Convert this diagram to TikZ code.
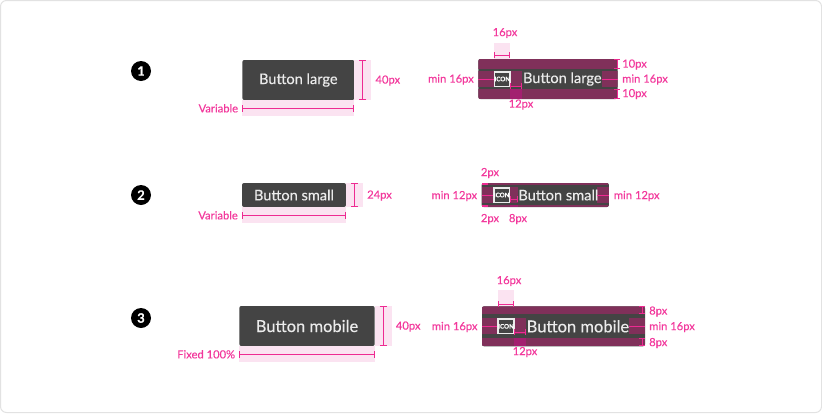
\documentclass[tikz,border=0pt]{standalone}
\usepackage{fontspec}
\setmainfont{Lato}[FakeBold = 0.25]
\usetikzlibrary{calc,arrows.meta}

\definecolor{markPink}{HTML}{EE2A92}
\definecolor{textPink}{HTML}{F2399C}
\definecolor{bandPink}{HTML}{FBE3F1}
\definecolor{overMaroon}{HTML}{80305A}
\definecolor{overStrong}{HTML}{A32070}
\definecolor{btnGray}{HTML}{444444}
\definecolor{pageEdge}{HTML}{E2E2E2}

\tikzset{
    btnbox/.style = {fill = btnGray, rounded corners = 2pt, inner sep = 0pt, outer sep = 0pt, text = white!92!black},
    lbl/.style = {text = textPink, inner sep = 0pt, font = \fontsize{11.2}{11.2}\selectfont},
    measure/.style = {draw = markPink, line width = 1pt, {Bar[width = 7pt, line width = 1pt]}-{Bar[width = 7pt, line width = 1pt]}},
    smallmeasure/.style = {draw = markPink, line width = 1pt, {Bar[width = 6pt, line width = 1pt]}-{Bar[width = 6pt, line width = 1pt]}},
    bullet/.style = {circle, fill = black, text = white, inner sep = 0pt, minimum size = 20pt, font = \fontsize{13}{13}\selectfont\bfseries},
    iconbox/.style = {draw = white!92!black, line width = 1.5pt, inner sep = 0pt, minimum size = 14.5pt, font = \fontsize{6.2}{6.2}\selectfont\bfseries, text = white}
}

\begin{document}
\begin{tikzpicture}[x = 1pt, y = -1pt]

        \useasboundingbox (0, 0) rectangle (822, 413);
        \draw[pageEdge, line width = 1pt, rounded corners = 6pt] (0.5, 0.5) rectangle (821.5, 412.5);

        % numbered bullets
        \foreach \n/\y in {1/71, 2/195, 3/318} {
            \node[bullet] (num\n) at (141, \y) {\n};
        }

        % buttons on the left, with height and width
        \foreach \n/\x/\y/\w/\h/\size/\title/\hText/\wText/\wGap in {
            1/298.3/80/112/40/14.6/Button large/40px/Variable/4,
            2/294/195/104/24/14.6/Button small/24px/Variable/4,
            3/307/326/135.4/40/16.5/Button mobile/40px/Fixed 100\%/4} {

            \node[btnbox, minimum width = \w pt, minimum height = \h pt, font = \fontsize{\size}{\size}\selectfont] (btn\n) at (\x, \y) {\title};

            % draw bands
            \fill[bandPink] (btn\n.north east) rectangle ($(btn\n.south east) + (17, 0)$);
            \fill[bandPink] (btn\n.south west) rectangle ($(btn\n.south east) + (0, 16)$);

            % draw measures
            \coordinate (hTop\n) at ($(btn\n.north east) + (8.5, 0)$);
            \coordinate (hBot\n) at ($(btn\n.south east) + (8.5, 0)$);
            \coordinate (wLeft\n) at ($(btn\n.south west) + (0, 8.3)$);
            \coordinate (wRight\n) at ($(btn\n.south east) + (0, 8.3)$);
            \draw[measure] (hTop\n) -- (hBot\n);
            \draw[measure] (wLeft\n) -- (wRight\n);

            \node[lbl, anchor = west] (hLbl\n) at ($(btn\n.east) + (21, 0.5)$) {\hText};
            \node[lbl, anchor = east] (wLbl\n) at ($(wLeft\n) + (-\wGap, 0)$) {\wText};
        }

        % buttons on the right, with paddings on top
        \foreach \n/\x/\y/\w/\h/\pad/\gapW/\gapY/\band/\size/\title in {
            1/548/79/139.4/40/16/12/7/10/14.6/Button large,
            2/545.3/195/127.3/24/12/8/4/2/14.6/Button small,
            3/563.5/326.3/163/40/16/12/6/8/16.5/Button mobile} {

            \node[btnbox, minimum width = \w pt, minimum height = \h pt] (box\n) at (\x, \y) {};

            \begin{scope}
                \clip[rounded corners = 2pt] (box\n.north west) rectangle (box\n.south east);
                \fill[overMaroon] (box\n.north west) rectangle ($(box\n.north east) + (0, \band)$);
                \fill[overMaroon] ($(box\n.south west) + (0, -\band)$) rectangle (box\n.south east);
                \fill[overMaroon] ($(box\n.west) + (0, -8)$) rectangle ($(box\n.west) + (\pad, 8)$);
                \fill[overMaroon] ($(box\n.east) + (0, -8)$) rectangle ($(box\n.east) + (-\pad, 8)$);
                \fill[overMaroon] ($(box\n.west) + (\pad + 16, -8)$) rectangle ($(box\n.west) + (\pad + 16 + \gapW, 8)$);
                \fill[overStrong] ($(box\n.south west) + (\pad + 16, -\band)$) rectangle ($(box\n.south west) + (\pad + 16 + \gapW, 0)$);
            \end{scope}

            \node[iconbox] (icon\n) at ($(box\n.west) + (\pad + 8, 0)$) {ICON};
            \node[anchor = west, inner sep = 0pt, text = white!92!black, font = \fontsize{\size}{\size}\selectfont] (title\n) at ($(box\n.west) + (\pad + 16 + \gapW + 0.5, 0)$) {\title};

            % draw paddings
            \coordinate (gapA\n) at ($(box\n.west) + (\pad + 16, \gapY)$);
            \coordinate (gapB\n) at ($(box\n.west) + (\pad + 16 + \gapW, \gapY)$);
            \draw[smallmeasure] (gapA\n) -- (gapB\n);
            \draw[markPink, line width = 1pt] (box\n.west) -- (icon\n.west);
            \draw[markPink, line width = 1pt] ($(box\n.east) + (-\pad, 0)$) -- (box\n.east);
        }

        % 16px on top of the icon
        \foreach \n/\up in {1/3.7, 3/2.3} {
            \coordinate (icoTopL\n) at ($(box\n.north west) + (16, 0)$);
            \coordinate (icoTopR\n) at ($(box\n.north west) + (32, 0)$);
            \fill[bandPink] (icoTopL\n) rectangle ($(icoTopR\n) + (0, -16)$);
            \draw[smallmeasure] ($(icoTopL\n) + (0, -\up)$) -- ($(icoTopR\n) + (0, -\up)$);
        }

        % top and bottom paddings
        \foreach \n/\band/\dx in {1/10/0.7, 3/8/2.7} {
            \draw[smallmeasure] ($(box\n.north east) + (-\dx, 0)$) -- ($(box\n.north east) + (-\dx, \band)$);
            \draw[smallmeasure] ($(box\n.south east) + (-\dx, -\band)$) -- ($(box\n.south east) + (-\dx, 0)$);
        }
        \fill[markPink] (box2.north west) rectangle ($(box2.north west) + (6, 2)$);
        \fill[markPink] ($(box2.south west) + (0, -2)$) rectangle ($(box2.south west) + (6, 0)$);

        % labels of the first row
        \node[lbl] (lblA) at (505, 33) {16px};
        \node[lbl, anchor = east] (lblB) at (474, 79.5) {min 16px};
        \node[lbl, anchor = west] (lblC) at (622, 79.5) {min 16px};
        \node[lbl, anchor = west] (lblD) at (622, 64.5) {10px};
        \node[lbl, anchor = west] (lblE) at (622, 94) {10px};
        \node[lbl] (lblF) at (521, 104.5) {12px};

        % labels of the second row
        \node[lbl] (lblG) at (490, 173) {2px};
        \node[lbl, anchor = east] (lblH) at (477.3, 196) {min 12px};
        \node[lbl, anchor = west] (lblI) at (613.7, 196) {min 12px};
        \node[lbl] (lblJ) at (490, 219) {2px};
        \node[lbl] (lblK) at (518, 219) {8px};

        % labels of the third row
        \node[lbl] (lblL) at (509, 281) {16px};
        \node[lbl, anchor = east] (lblM) at (477.7, 327) {min 16px};
        \node[lbl, anchor = west] (lblN) at (649, 327) {min 16px};
        \node[lbl, anchor = west] (lblO) at (649, 311.5) {8px};
        \node[lbl, anchor = west] (lblP) at (649, 343) {8px};
        \node[lbl] (lblQ) at (525, 352) {12px};

    \end{tikzpicture}
\end{document}
